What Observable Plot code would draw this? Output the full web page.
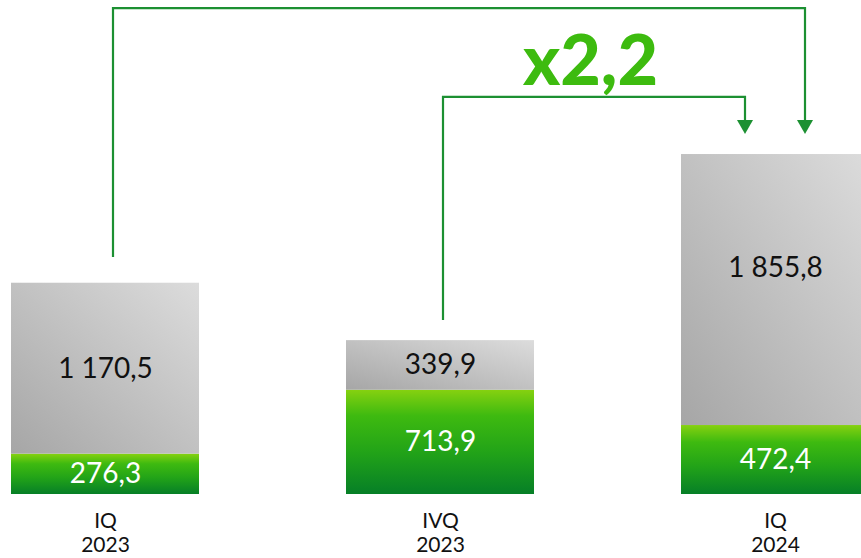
<!DOCTYPE html>
<html>
<head>
<meta charset="utf-8">
<script src="https://cdn.jsdelivr.net/npm/d3@7"></script>
<script src="https://cdn.jsdelivr.net/npm/@observablehq/plot@0.6"></script>
<style>
  html, body { margin: 0; padding: 0; background: #fff; overflow: hidden; }
  #chart svg { display: block; overflow: visible; }
</style>
</head>
<body>
<div id="chart"></div>
<script>
// ---- data ----
const categories = ["IQ\n2023", "IVQ\n2023", "IQ\n2024"];
const greenValues = [276.3, 713.9, 472.4];
const grayValues = [1170.5, 339.9, 1855.8];
const multiplierLabel = "x2,2";
// comparison arrows: from category -> to category, with start and top levels (data units)
const arrowFrom = ["IQ\n2023", "IVQ\n2023"];
const arrowTo = ["IQ\n2024", "IQ\n2024"];
const arrowStart = [1623, 1192];
const arrowTop = [3328, 2719];
const arrowTip = 2465;

// ---- derived table ----
const locale = d3.formatLocale({decimal: ",", thousands: "\u00a0", grouping: [3]});
const fmt = locale.format(",.1f");
const table = [];
categories.forEach((c, i) => {
  table.push({cat: c, series: "lower", y1: 0, y2: greenValues[i], value: greenValues[i]});
  table.push({cat: c, series: "upper", y1: greenValues[i], y2: greenValues[i] + grayValues[i], value: grayValues[i]});
});
const lowerRows = table.filter(d => d.series === "lower");
const upperRows = table.filter(d => d.series === "upper" && d.cat !== "IQ\n2024");
const upperTallRows = table.filter(d => d.series === "upper" && d.cat === "IQ\n2024");

const NS = "http://www.w3.org/2000/svg";
function el(name, attrs) {
  const e = document.createElementNS(NS, name);
  for (const k in attrs) e.setAttribute(k, attrs[k]);
  return e;
}
function gradients() {
  const defs = el("defs", {});
  const gray = el("linearGradient", {id: "grayGrad", x1: 0, y1: 1, x2: 1, y2: 0});
  gray.appendChild(el("stop", {offset: "0%", "stop-color": "#a6a6a6"}));
  gray.appendChild(el("stop", {offset: "100%", "stop-color": "#dcdcdc"}));
  const green = el("linearGradient", {id: "greenGrad", x1: 0, y1: 0, x2: 0, y2: 1});
  green.appendChild(el("stop", {offset: "0%", "stop-color": "#86d110"}));
  green.appendChild(el("stop", {offset: "25%", "stop-color": "#3eba10"}));
  green.appendChild(el("stop", {offset: "60%", "stop-color": "#22a318"}));
  green.appendChild(el("stop", {offset: "100%", "stop-color": "#067f27"}));
  defs.appendChild(gray);
  defs.appendChild(green);
  return defs;
}

const ARROW_COLOR = "#1c9032";
const fromOffsets = [8, 3];
const toOffsets = [30, -30];
function arrows(index, scales) {
  const xs = scales.x;
  let bw = 0;
  if (typeof xs.bandwidth === "function") bw = xs.bandwidth();
  else if (typeof xs.bandwidth === "number") bw = xs.bandwidth;
  else if (scales.scales && scales.scales.x) bw = scales.scales.x.bandwidth || 0;
  const cx = c => xs(c) + bw / 2;
  const g = el("g", {});
  arrowFrom.forEach((f, i) => {
    const x0 = cx(f) + fromOffsets[i];
    const x1 = cx(arrowTo[i]) + toOffsets[i];
    const ys = scales.y(arrowStart[i]);
    const yt = scales.y(arrowTop[i]);
    const ye = scales.y(arrowTip);
    g.appendChild(el("path", {
      d: `M${x0},${ys}V${yt}H${x1}V${ye - 12}`,
      fill: "none", stroke: ARROW_COLOR, "stroke-width": 2.2
    }));
    g.appendChild(el("path", {
      d: `M${x1 - 8},${ye - 14}L${x1 + 8},${ye - 14}L${x1},${ye}Z`,
      fill: ARROW_COLOR
    }));
  });
  return g;
}

const chart = Plot.plot({
  width: 861,
  height: 558,
  marginTop: 0,
  marginBottom: 64,
  marginLeft: 0,
  marginRight: 0,
  style: {fontFamily: "Lato, sans-serif", background: "#fff"},
  x: {domain: categories, range: [10, 870], paddingInner: 0.44, paddingOuter: 0, label: null},
  y: {domain: [0, 3383], axis: null},
  color: {domain: ["lower", "upper"], range: ["url(#greenGrad)", "url(#grayGrad)"]},
  marks: [
    gradients,
    Plot.barY(table, {x: "cat", y1: "y1", y2: "y2", fill: "series", inset: 0}),
    Plot.axisX({tickSize: 0, tickPadding: 16, fontSize: 21, lineHeight: 1.15, fill: "#111", label: null}),
    Plot.text(lowerRows, {
      x: "cat",
      y: d => (d.y1 + d.y2) / 2,
      text: d => fmt(d.value),
      fill: "#ffffff",
      fontSize: 28
    }),
    Plot.text(upperRows, {
      x: "cat",
      y: d => (d.y1 + d.y2) / 2,
      text: d => fmt(d.value),
      fill: "#111111",
      fontSize: 28
    }),
    Plot.text(upperTallRows, {
      x: "cat",
      y: d => (d.y1 + d.y2) / 2,
      text: d => fmt(d.value),
      fill: "#111111",
      dy: -22,
      fontSize: 28
    }),
    arrows,
    Plot.text([multiplierLabel], {
      x: () => "IVQ\n2023",
      y: () => 2958,
      text: d => d,
      dx: 150,
      fill: "#3dbb0f",
      fontSize: 70,
      fontWeight: 900
    })
  ]
});
document.getElementById("chart").appendChild(chart);
</script>
</body>
</html>
